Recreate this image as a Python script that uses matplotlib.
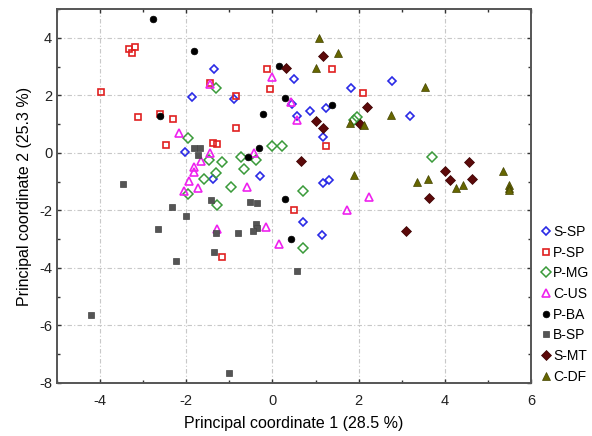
import matplotlib
matplotlib.use("Agg")
import matplotlib.pyplot as plt
from matplotlib.lines import Line2D
from matplotlib.ticker import MultipleLocator

plt.rcParams['font.family'] = ['Liberation Sans', 'DejaVu Sans']
plt.rcParams['axes.unicode_minus'] = False

# group coordinates (PCo1, PCo2)
ssp_x = [-1.35, -1.86, -0.90, 0.51, 1.83, 2.78, 3.20, 0.56, 0.86, 1.25, 1.18, 0.46, -2.04, -1.37, -0.28, 1.18, 1.32, 0.72, 1.16]
ssp_y = [2.91, 1.94, 1.87, 2.56, 2.25, 2.49, 1.28, 1.28, 1.45, 1.56, 0.55, 1.70, 0.03, -0.90, -0.80, -1.04, -0.93, -2.39, -2.84]

psp_x = [-3.97, -3.34, -3.18, -3.27, -3.11, -2.62, -2.30, -2.48, -1.46, -0.84, -0.84, -1.39, -1.28, -0.12, -0.05, 1.39, 2.09, 1.25, 0.49, -1.18]
psp_y = [2.11, 3.63, 3.70, 3.46, 1.25, 1.35, 1.18, 0.28, 2.42, 1.97, 0.87, 0.35, 0.31, 2.91, 2.21, 2.91, 2.08, 0.24, -1.97, -3.63]

pmg_x = [-1.32, -1.97, -1.48, -1.16, -0.74, -0.39, -0.65, -1.32, -1.60, -0.97, -1.97, -1.28, -0.02, 0.21, 0.70, 0.70, 1.95, 1.90, 3.71]
pmg_y = [2.25, 0.52, -0.24, -0.31, -0.14, -0.24, -0.55, -0.69, -0.90, -1.18, -1.42, -1.80, 0.24, 0.24, -1.31, -3.29, 1.25, 1.14, -0.14]

cus_x = [-1.46, -0.02, 0.44, 0.56, -2.18, -1.44, -1.65, -0.42, -1.81, -1.81, -1.93, -1.72, -2.06, -0.60, -1.28, -0.16, 0.16, 1.72, 2.23]
cus_y = [2.39, 2.63, 1.76, 1.14, 0.69, 0.00, -0.28, 0.00, -0.48, -0.66, -0.97, -1.21, -1.31, -1.18, -2.66, -2.56, -3.18, -1.97, -1.52]

pba_x = [-2.78, -1.83, -2.62, 0.14, 0.30, -0.21, 1.39, -0.32, -0.56, 0.28, 0.44]
pba_y = [4.67, 3.56, 1.28, 3.01, 1.90, 1.35, 1.66, 0.17, -0.14, -1.59, -3.01]

bsp_x = [-4.22, -3.48, -1.83, -1.69, -1.72, -2.32, -1.42, -2.00, -2.65, -2.23, -1.35, -1.30, -0.81, -0.51, -0.37, -0.39, -0.35, -0.46, 0.56, -1.00]
bsp_y = [-5.64, -1.07, 0.17, 0.17, -0.07, -1.87, -1.63, -2.18, -2.66, -3.77, -3.46, -2.80, -2.77, -1.70, -1.73, -2.46, -2.60, -2.70, -4.12, -7.65]

smt_x = [1.18, 0.32, 1.02, 1.18, 0.67, 2.20, 2.04, 4.57, 4.01, 4.11, 4.64, 3.64, 3.09]
smt_y = [3.36, 2.94, 1.11, 0.87, -0.28, 1.59, 1.00, -0.31, -0.62, -0.93, -0.90, -1.56, -2.70]

cdf_x = [1.07, 1.53, 1.02, 3.55, 2.76, 1.79, 2.13, 1.90, 3.36, 3.62, 4.25, 4.43, 5.36, 5.48, 5.48, 5.48]
cdf_y = [3.98, 3.46, 2.94, 2.28, 1.31, 1.04, 0.97, -0.76, -1.00, -0.90, -1.21, -1.11, -0.62, -1.11, -1.21, -1.28]

labels = ["S-SP", "P-SP", "P-MG", "C-US", "P-BA", "B-SP", "S-MT", "C-DF"]

fig = plt.figure(figsize=(5.92, 4.36), dpi=100)
ax = fig.add_axes([0.0963, 0.1216, 0.8007, 0.8574])

styles = [
    (ssp_x, ssp_y, dict(marker='D', ms=4.2, mfc='none', mec='#2a2ae6', mew=1.2)),
    (psp_x, psp_y, dict(marker='s', ms=4.8, mfc='none', mec='#e02020', mew=1.2)),
    (pmg_x, pmg_y, dict(marker='D', ms=5.0, mfc='none', mec='#3a9a3a', mew=1.1)),
    (cus_x, cus_y, dict(marker='^', ms=5.5, mfc='none', mec='#ee22ee', mew=1.2)),
    (pba_x, pba_y, dict(marker='o', ms=4.8, mfc='black', mec='black', mew=0.5)),
    (bsp_x, bsp_y, dict(marker='s', ms=4.5, mfc='#555555', mec='#444444', mew=0.5)),
    (smt_x, smt_y, dict(marker='D', ms=4.8, mfc='#5c0a0a', mec='#3a0000', mew=0.5)),
    (cdf_x, cdf_y, dict(marker='^', ms=5.5, mfc='#666600', mec='#444400', mew=0.5)),
]

handles = []
for (xs, ys, st), lab in zip(styles, labels):
    ax.plot(xs, ys, linestyle='none', zorder=3, **st)
    handles.append(Line2D([], [], linestyle='none', label=lab, **st))

ax.set_xlim(-5, 6)
ax.set_ylim(-8, 5)
ax.xaxis.set_major_locator(MultipleLocator(2))
ax.xaxis.set_minor_locator(MultipleLocator(1))
ax.yaxis.set_major_locator(MultipleLocator(2))
ax.yaxis.set_minor_locator(MultipleLocator(1))
ax.tick_params(which='both', direction='in', top=True, right=True, color='#333333',
               labelsize=10.5, labelcolor='#222222')
ax.tick_params(which='major', length=3, width=1)
ax.tick_params(which='minor', length=2, width=1)
ax.tick_params(axis='x', pad=8)
ax.grid(True, which='major', color='#c8c8c8', linestyle=(0, (4, 2, 1, 2)), linewidth=0.8)
ax.set_axisbelow(True)
for s in ax.spines.values():
    s.set_color('#555555')
    s.set_linewidth(1.4)

ax.set_xlabel("Principal coordinate 1 (28.5 %)", fontsize=11.5, labelpad=6)
ax.set_ylabel("Principal coordinate 2 (25.3 %)", fontsize=11.5, labelpad=5)

fig.legend(handles=handles, loc='upper left', bbox_to_anchor=(0.9155, 0.484),
           frameon=False, fontsize=10, handlelength=0.6, handletextpad=0.2,
           labelspacing=0.48, borderpad=0, borderaxespad=0)

fig.savefig("out.png", dpi=100)
